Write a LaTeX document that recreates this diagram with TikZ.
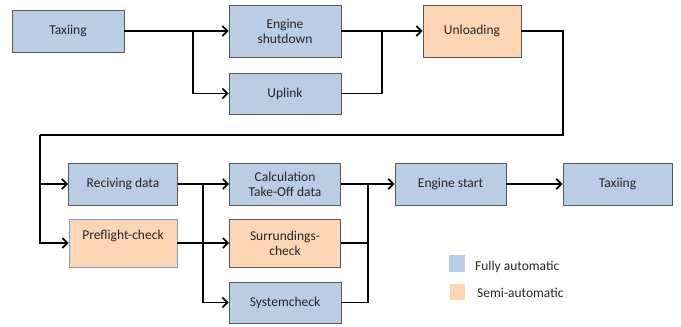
\documentclass[tikz,border=0pt]{standalone}
\usepackage{fontspec}
\setmainfont{Carlito}
\usetikzlibrary{arrows.meta}
\definecolor{autoblue}{HTML}{B9CDE5}
\definecolor{semiorange}{HTML}{FCD5B5}
\definecolor{boxgray}{HTML}{595959}
\definecolor{paleedge}{HTML}{7F9DC8}
\definecolor{inkgray}{HTML}{262626}
\tikzset{
  fullbox/.style={draw=boxgray,fill=autoblue,line width=0.9pt,align=center,inner sep=0pt},
  semibox/.style={draw=boxgray,fill=semiorange,line width=0.9pt,align=center,inner sep=0pt},
  flow/.style={line width=1.8pt,-{Straight Barb[length=5pt,width=10pt]}},
  link/.style={line width=1.8pt},
}

\begin{document}
\begin{tikzpicture}[x=1pt,y=-1pt,font=\fontsize{13.5}{15}\selectfont,text=inkgray]
        \useasboundingbox (0,0) rectangle (681,327);
        % first row
        \node [fullbox,minimum width=112pt,minimum height=42pt] (taxi1) at (68,31) {Taxiing};
        \node [fullbox,minimum width=112pt,minimum height=52pt] (shut) at (285,31) {Engine\\shutdown};
        \node [fullbox,minimum width=112pt,minimum height=41pt] (uplink) at (285,93.5) {Uplink};
        \node [semibox,minimum width=98pt,minimum height=52pt] (unload) at (472,31) {Unloading};
        % second row
        \node [fullbox,minimum width=109pt,minimum height=42pt] (recv) at (123,184) {Reciving data};
        \node [semibox,draw=paleedge,minimum width=108pt,text height=20pt,text depth=28pt] (pre) at (123,243) {Preflight-check};
        \node [fullbox,minimum width=111pt,minimum height=42pt] (calc) at (285,184) {Calculation\\Take-Off data};
        \node [semibox,minimum width=111pt,minimum height=48pt] (surr) at (285,243) {Surrundings-\\check};
        \node [fullbox,minimum width=112pt,minimum height=41pt] (sys) at (285,302.5) {Systemcheck};
        \node [fullbox,minimum width=111pt,minimum height=42pt] (start) at (450.5,184) {Engine start};
        \node [fullbox,minimum width=109pt,minimum height=42pt] (taxi2) at (617.5,184) {Taxiing};
        % legend
        \node [fill=autoblue,minimum width=16pt,minimum height=17pt,inner sep=0pt] (keyfull) at (457,263.5) {};
        \node [fill=semiorange,minimum width=15pt,minimum height=16pt,inner sep=0pt] (keysemi) at (457.5,292) {};
        \node [anchor=west,inner sep=0pt] (txtfull) at (475,267) {Fully automatic};
        \node [anchor=west,inner sep=0pt] (txtsemi) at (477,293) {Semi-automatic};
        % junctions
        \coordinate (split1) at (193,31);
        \coordinate (join1) at (382,31);
        \coordinate (turnR) at (563,135);
        \coordinate (turnL) at (40,135);
        \coordinate (split2) at (203,184);
        \coordinate (join2) at (368,184);
        % connectors
        \draw [flow] (taxi1.east) -- (shut.west);
        \draw [flow] (split1) |- (uplink.west);
        \draw [flow] (shut.east) -- (unload.west);
        \draw [link] (uplink.east) -| (join1);
        \draw [link] (unload.east) -| (turnR) -- (turnL);
        \draw [flow] (turnL) |- (recv.west);
        \draw [flow] (turnL) |- (pre.west);
        \draw [flow] (recv.east) -- (calc.west);
        \draw [flow] (pre.east) -- (surr.west);
        \draw [flow] (split2) |- (sys.west);
        \draw [flow] (calc.east) -- (start.west);
        \draw [link] (surr.east) -| (join2);
        \draw [link] (sys.east) -| (join2);
        \draw [flow] (start.east) -- (taxi2.west);
\end{tikzpicture}
\end{document}
